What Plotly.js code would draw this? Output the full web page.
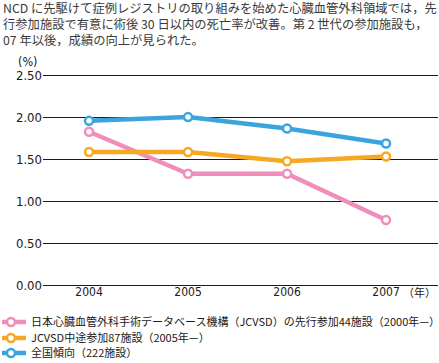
<!DOCTYPE html>
<html><head><meta charset="utf-8">
<script src="https://cdn.plot.ly/plotly-3.0.1.min.js"></script>
<style>html,body{margin:0;padding:0;background:#fff;}#chart{width:439px;height:363px;}</style>
</head><body><div id="chart"></div>
<script>
const years = [2004, 2005, 2006, 2007];
const yearLabels = ['2004', '2005', '2006', '2007'];
const seriesNames = [
  '日本心臓血管外科手術データベース機構（JCVSD）の先行参加44施設（2000年—）',
  'JCVSD中途参加87施設（2005年—）',
  '全国傾向（222施設）'
];
const earlyParticipants = [1.83, 1.33, 1.33, 0.78];
const midParticipants = [1.59, 1.59, 1.48, 1.535];
const nationalTrend = [1.96, 2.005, 1.87, 1.69];
const yTicks = [0, 0.5, 1.0, 1.5, 2.0, 2.5];
const yTickLabels = ['0.00', '0.50', '1.00', '1.50', '2.00', '2.50'];
const headline = 'NCD に先駆けて症例レジストリの取り組みを始めた心臓血管外科領域では，先<br>行参加施設で有意に術後 30 日以内の死亡率が改善。第 2 世代の参加施設も，<br>07 年以後，成績の向上が見られた。';

const colors = ['#F08DBB', '#F7A823', '#3BA4DE'];
const values = [earlyParticipants, midParticipants, nationalTrend];
const legendIds = ['legend', 'legend2', 'legend3'];
const legendY = [322, 338, 353];
const cjk = '"Noto Sans CJK JP", "Noto Sans", sans-serif';
const numFont = '"Liberation Sans Narrow", "DejaVu Sans Condensed", "Noto Sans CJK JP", sans-serif';

const traces = values.map((v, i) => ({
  x: years, y: v, name: seriesNames[i], type: 'scatter', mode: 'lines+markers',
  legend: legendIds[i],
  line: {color: colors[i], width: 4.5},
  marker: {color: '#ffffff', size: 8, line: {color: colors[i], width: 2.5}},
  hoverinfo: 'skip'
}));

const W = 439, H = 363, ML = 43, MR = 1, MT = 74, MB = 76;
const PW = W - ML - MR, PH = H - MT - MB;
const layout = {
  width: W, height: H,
  margin: {l: ML, r: MR, t: MT, b: MB},
  paper_bgcolor: '#ffffff', plot_bgcolor: '#ffffff',
  showlegend: true,
  xaxis: {
    type: 'linear', range: [2003.535, 2007.525],
    tickvals: years, ticktext: yearLabels,
    showgrid: false, zeroline: false, showline: false, ticks: '',
    ticklabelstandoff: -4,
    tickfont: {family: numFont, size: 12, color: '#231815'}, fixedrange: true
  },
  yaxis: {
    range: [-0.018, 2.518], tickvals: yTicks, ticktext: yTickLabels,
    showgrid: true, gridcolor: '#231815', gridwidth: 1.2,
    zeroline: false, showline: false, ticks: '',
    tickfont: {family: numFont, size: 13, color: '#231815'}, fixedrange: true
  },
  annotations: [
    {text: headline, xref: 'paper', yref: 'paper', x: (1 - ML) / PW, y: (H - MB + 3) / PH,
     xanchor: 'left', yanchor: 'top', align: 'left', showarrow: false,
     font: {family: cjk, size: 12.3, color: '#3a3a3a'}},
    {text: '(%)', xref: 'paper', yref: 'paper', x: (27 - ML) / PW, y: (H - MB - 61) / PH,
     xanchor: 'center', yanchor: 'middle', showarrow: false,
     font: {family: numFont, size: 12.5, color: '#231815'}},
    {text: '（年）', xref: 'paper', yref: 'paper', x: 1, y: (H - MB - 292) / PH,
     xanchor: 'right', yanchor: 'middle', showarrow: false,
     font: {family: cjk, size: 11, color: '#231815'}}
  ]
};
legendIds.forEach((id, i) => {
  layout[id] = {
    xref: 'container', yref: 'container', orientation: 'h',
    x: 2 / W, xanchor: 'left',
    y: 1 - legendY[i] / H, yanchor: 'middle',
    font: {family: cjk, size: 11, color: '#231815'},
    bgcolor: 'rgba(0,0,0,0)', borderwidth: 0, itemwidth: 30, indentation: -11
  };
});

Plotly.newPlot('chart', traces, layout, {displayModeBar: false, staticPlot: true});
</script></body></html>
